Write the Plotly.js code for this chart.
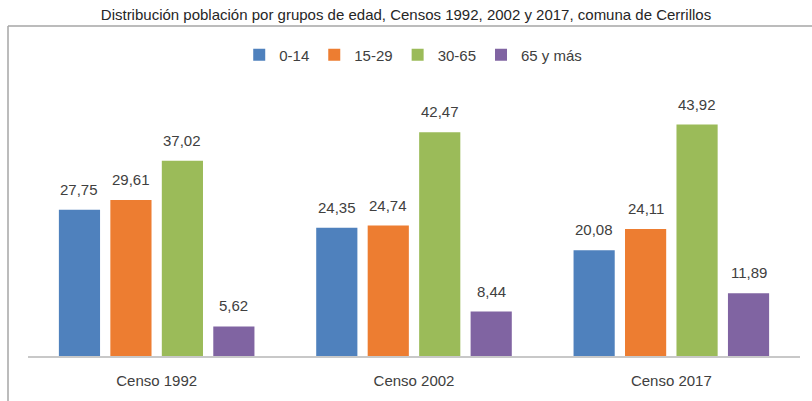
<!DOCTYPE html>
<html>
<head>
<meta charset="utf-8">
<script src="https://cdn.plot.ly/plotly-3.0.1.min.js"></script>
<style>
html,body{margin:0;padding:0;background:#fff;}
#chart{width:812px;height:401px;}
</style>
</head>
<body>
<div id="chart"></div>
<script>
var categories = ["Censo 1992", "Censo 2002", "Censo 2017"];
var seriesNames = ["0-14", "15-29", "30-65", "65 y más"];
var v0_14 = [27.75, 24.35, 20.08];
var v15_29 = [29.61, 24.74, 24.11];
var v30_65 = [37.02, 42.47, 43.92];
var v65 = [5.62, 8.44, 11.89];
var colors = ["#4F81BD", "#ED7D31", "#9BBB59", "#8064A2"];

var FONT = "'Liberation Sans Narrow', 'Liberation Sans', Arial, sans-serif";
var allVals = [v0_14, v15_29, v30_65, v65];

function fmt(v){ return v.toFixed(2).replace('.', ','); }

var W = 812, H = 401;
var margin = {l: 28, r: 12, t: 103, b: 45};
var bargap = 0.2;
var plotW = W - margin.l - margin.r;
var pitch = plotW / categories.length * (1 - bargap) / allVals.length;

var traces = allVals.map(function(vals, i){
  return {
    type: 'bar',
    name: seriesNames[i],
    x: categories,
    y: vals,
    marker: {color: colors[i]},
    hoverinfo: 'none'
  };
});

var annotations = [];
allVals.forEach(function(vals, i){
  vals.forEach(function(v, j){
    annotations.push({
      x: categories[j], y: v, xref: 'x', yref: 'y',
      text: fmt(v), showarrow: false,
      xanchor: 'center', yanchor: 'bottom',
      xshift: (i - (allVals.length - 1) / 2) * pitch,
      yshift: 10,
      font: {family: FONT, size: 15, color: '#404040'}
    });
  });
});

var layout = {
  width: W, height: H,
  margin: margin,
  paper_bgcolor: '#fff', plot_bgcolor: '#fff',
  barmode: 'group',
  bargap: bargap,
  bargroupgap: 0.2,
  font: {family: FONT, color: '#404040'},
  title: {
    text: 'Distribución población por grupos de edad, Censos 1992, 2002 y 2017, comuna de Cerrillos',
    font: {family: FONT, size: 15, color: '#262626'},
    x: 0.5, xanchor: 'center', y: 0.962, yanchor: 'middle'
  },
  showlegend: true,
  legend: {
    orientation: 'h', x: 0.499, xanchor: 'center', y: 1.19, yanchor: 'middle',
    font: {family: FONT, size: 15, color: '#404040'},
    itemwidth: 30, traceorder: 'normal'
  },
  xaxis: {
    showline: true, linecolor: '#C8C8C8', linewidth: 2,
    showgrid: false, zeroline: false, ticks: '',
    tickfont: {family: FONT, size: 15, color: '#404040'},
    ticklabelstandoff: 10
  },
  yaxis: {
    range: [0, 48], visible: false, showgrid: false, zeroline: false
  },
  annotations: annotations,
  shapes: [
    {type: 'line', xref: 'paper', yref: 'paper', x0: -0.0259, x1: 1.02, y0: 1.304, y1: 1.304,
     line: {color: '#A6A6A6', width: 1.5}},
    {type: 'line', xref: 'paper', yref: 'paper', x0: -0.0259, x1: -0.0259, y0: 1.304, y1: -0.2,
     line: {color: '#A6A6A6', width: 1.5}}
  ]
};

Plotly.newPlot('chart', traces, layout, {displayModeBar: false, staticPlot: true});
</script>
</body>
</html>
